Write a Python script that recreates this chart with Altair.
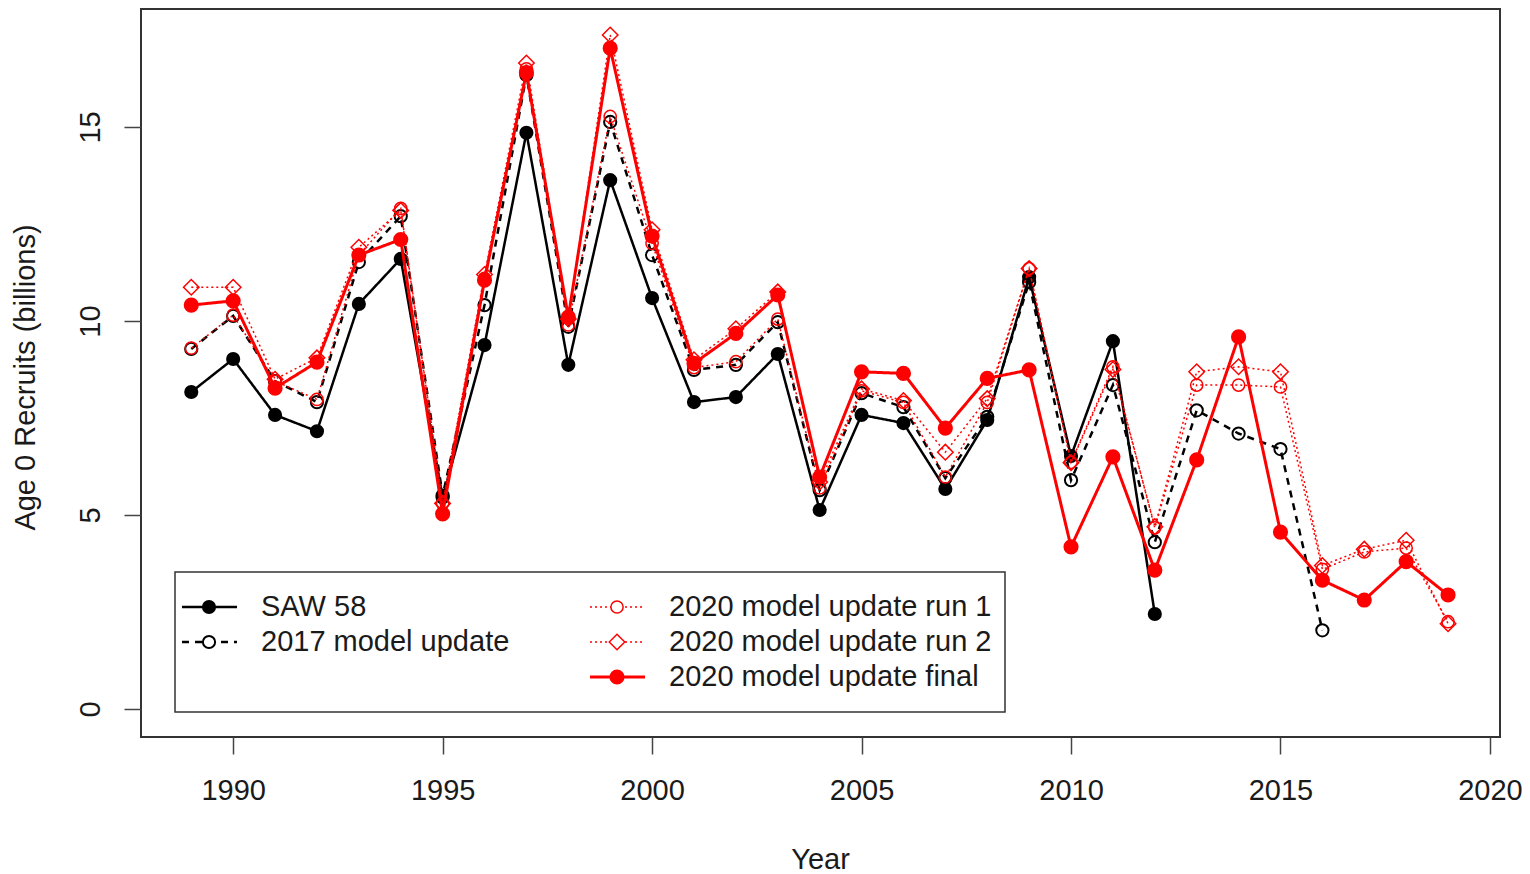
import altair as alt
import pandas as pd

FONT = "Liberation Sans"

# ---------------- data ----------------
years_saw58 = list(range(1989, 2013))
saw58 = [8.17, 9.02, 7.58, 7.16, 10.44, 11.6, 5.45, 9.38, 14.85, 8.87, 13.63, 10.59,
         7.91, 8.04, 9.15, 5.13, 7.58, 7.37, 5.67, 7.45, 11.13, 6.52, 9.48, 2.45]

years_2017 = list(range(1989, 2017))
update2017 = [9.28, 10.13, 8.45, 7.91, 11.52, 12.7, 5.5, 10.41, 16.34, 9.85, 15.13, 11.7,
              8.74, 8.87, 9.97, 5.64, 8.14, 7.78, 5.95, 7.53, 11.0, 5.9, 8.35, 4.3,
              7.7, 7.1, 6.7, 2.03]

years_2020 = list(range(1989, 2020))
run1 = [9.3, 10.15, 8.45, 7.98, 11.7, 12.9, 5.3, 11.1, 16.5, 9.9, 15.27, 12.0,
        8.8, 8.95, 10.05, 5.7, 8.2, 7.9, 5.98, 7.9, 11.35, 6.36, 8.82, 4.67,
        8.35, 8.35, 8.3, 3.6, 4.05, 4.15, 2.25]
run2 = [10.87, 10.87, 8.5, 9.05, 11.9, 12.85, 5.3, 11.2, 16.65, 10.05, 17.37, 12.35,
        9.0, 9.8, 10.75, 5.85, 8.25, 7.95, 6.62, 8.0, 11.35, 6.35, 8.75, 4.7,
        8.69, 8.82, 8.69, 3.7, 4.12, 4.35, 2.2]
final = [10.41, 10.52, 8.27, 8.94, 11.7, 12.1, 5.03, 11.05, 16.4, 10.1, 17.03, 12.19,
         8.91, 9.68, 10.67, 5.98, 8.69, 8.65, 7.24, 8.52, 8.74, 4.18, 6.5, 3.58,
         6.42, 9.59, 4.56, 3.32, 2.81, 3.8, 2.94]

series_names = ["SAW 58", "2017 model update", "2020 model update run 1",
                "2020 model update run 2", "2020 model update final"]
x_ticks = [1990, 1995, 2000, 2005, 2010, 2015, 2020]
y_ticks = [0, 5, 10, 15]

# ---------------- styles ----------------
styles = {
    "SAW 58": dict(color="#000000", dash=[1, 0], width=2.5, shape="circle",
                   filled=True, size=200, pw=0),
    "2017 model update": dict(color="#000000", dash=[7, 6], width=2.5, shape="circle",
                              filled=False, size=150, pw=2),
    "2020 model update run 1": dict(color="#ff0000", dash=[2, 3], width=1.5, shape="circle",
                                    filled=False, size=150, pw=1.5),
    "2020 model update run 2": dict(color="#ff0000", dash=[2, 3], width=1.5, shape="diamond",
                                    filled=False, size=240, pw=1.5),
    "2020 model update final": dict(color="#ff0000", dash=[1, 0], width=3, shape="circle",
                                    filled=True, size=230, pw=0),
}

data_map = {
    "SAW 58": (years_saw58, saw58),
    "2017 model update": (years_2017, update2017),
    "2020 model update run 1": (years_2020, run1),
    "2020 model update run 2": (years_2020, run2),
    "2020 model update final": (years_2020, final),
}

x_scale = alt.Scale(domain=[1987.8, 2020.24], nice=False, zero=False)
y_scale = alt.Scale(domain=[-0.72, 18.04], nice=False, zero=False)

x_axis = alt.Axis(values=x_ticks, format="d", title="Year", labelPadding=22,
                  titleX=679, titleY=131, titleBaseline="alphabetic", titleAlign="center")
y_axis = alt.Axis(values=y_ticks, format="d", title="Age 0 Recruits (billions)",
                  labelAngle=270, labelAlign="center", labelBaseline="bottom",
                  labelPadding=19, titleAngle=270, titleX=-107, titleY=368,
                  titleBaseline="alphabetic", titleAlign="center")

xenc = alt.X("Year:Q", scale=x_scale, axis=x_axis)
yenc = alt.Y("Value:Q", scale=y_scale, axis=y_axis)

layers = []
for name in series_names:
    yrs, vals = data_map[name]
    st = styles[name]
    df = pd.DataFrame({"Year": yrs, "Value": vals})
    line = alt.Chart(df).mark_line(color=st["color"], strokeDash=st["dash"],
                                   strokeWidth=st["width"]).encode(x=xenc, y=yenc)
    if st["filled"]:
        pts = alt.Chart(df).mark_point(shape=st["shape"], filled=True, fill=st["color"],
                                       size=st["size"], opacity=1, strokeWidth=0)
    else:
        pts = alt.Chart(df).mark_point(shape=st["shape"], filled=False, fill="transparent",
                                       stroke=st["color"], size=st["size"], opacity=1,
                                       strokeWidth=st["pw"])
    layers += [line, pts.encode(x=xenc, y=yenc)]

# ---------------- manual legend (pixel positions inside the plot) ----------------
dummy = pd.DataFrame({"a": [0]})
box = alt.Chart(dummy).mark_rect(fill="white", stroke="#333333", strokeWidth=1.5).encode(
    x=alt.value(34), x2=alt.value(864), y=alt.value(563), y2=alt.value(703))
layers.append(box)

legend_slots = {
    "SAW 58": (0, 0),
    "2017 model update": (0, 1),
    "2020 model update run 1": (1, 0),
    "2020 model update run 2": (1, 1),
    "2020 model update final": (1, 2),
}
col_x = [41, 449]
row_y = [598, 633, 668]
for name in series_names:
    c, r = legend_slots[name]
    st = styles[name]
    x0 = col_x[c]
    yy = row_y[r]
    layers.append(alt.Chart(dummy).mark_rule(color=st["color"], strokeDash=st["dash"],
                                             strokeWidth=st["width"]).encode(
        x=alt.value(x0), x2=alt.value(x0 + 55), y=alt.value(yy)))
    if st["filled"]:
        p = alt.Chart(dummy).mark_point(shape=st["shape"], filled=True, fill=st["color"],
                                        size=st["size"], opacity=1, strokeWidth=0)
    else:
        p = alt.Chart(dummy).mark_point(shape=st["shape"], filled=False, fill="white",
                                        stroke=st["color"], size=st["size"], opacity=1,
                                        strokeWidth=st["pw"])
    layers.append(p.encode(x=alt.value(x0 + 27), y=alt.value(yy)))
    layers.append(alt.Chart(dummy).mark_text(align="left", baseline="middle", font=FONT,
                                             fontSize=29, color="#1a1a1a").encode(
        x=alt.value(x0 + 79), y=alt.value(yy), text=alt.value(name)))

chart = alt.layer(*layers).properties(
    width=1359, height=728,
    autosize=alt.AutoSizeParams(type="none"),
    padding={"left": 133, "top": 1, "right": 22, "bottom": 137},
).configure_view(
    stroke="#333333", strokeWidth=2
).configure_axis(
    labelFont=FONT, titleFont=FONT, labelFontSize=29, titleFontSize=29,
    labelColor="#1a1a1a", titleColor="#1a1a1a", titleFontWeight="normal",
    tickColor="#444444", tickWidth=1.5, tickSize=17, grid=False, domain=False,
)

chart.save("out.html", embed_options={"renderer": "svg", "actions": False})
